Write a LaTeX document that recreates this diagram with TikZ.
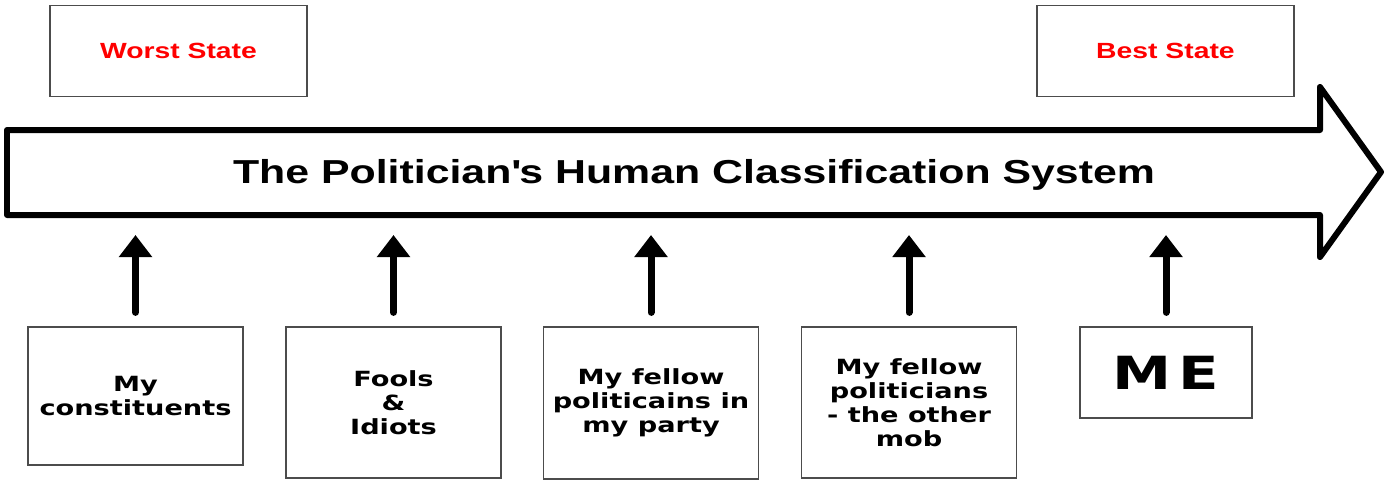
\documentclass[tikz,border=0pt]{standalone}
\usepackage{fontspec}
\usetikzlibrary{arrows.meta,positioning}
\newfontfamily\titlefont[FakeStretch=1.29]{Liberation Sans}
\newfontfamily\boxfont[FakeStretch=1.3]{DejaVu Sans}

\begin{document}
\begin{tikzpicture}[x=0.02cm,y=-0.02cm,
    statebox/.style={draw=black!70,line width=0.7pt,minimum width=5.14cm,minimum height=1.82cm,inner sep=0pt,text=red,font=\titlefont\bfseries\fontsize{12.5}{14}\selectfont},
    groupbox/.style={draw=black!70,line width=0.7pt,minimum width=4.3cm,inner sep=0pt,align=center,font=\boxfont\bfseries\fontsize{11.9}{13.7}\selectfont},
    uparrow/.style={line width=0.14cm,line cap=round,shorten <=0.28cm,-{Triangle[length=0.44cm,width=0.64cm]}}]
    \useasboundingbox (0,0) rectangle (1389,487);

    % end states
    \node[statebox] (worst) at (178.5,51) {Worst State};
    \node[statebox] (best) at (1165.5,51) {Best State};

    % the big arrow
    \draw[line width=0.12cm,line join=round] (7,130) -- (1320,130) -- (1320,87) -- (1381,172) -- (1320,257) -- (1320,215) -- (7,215) -- cycle;
    \node[font=\titlefont\bfseries\fontsize{18.9}{22}\selectfont] (title) at (694,175) {The Politician\textquotesingle s Human Classification System};

    % the classes
    \node[groupbox,minimum height=2.76cm] (constit) at (135.5,396) {My\\constituents};
    \node[groupbox,minimum height=3.02cm] (fools) at (393.5,402.5) {Fools\\\&\\Idiots};
    \node[groupbox,minimum height=3.04cm] (party) at (651,403) {My fellow\\politicains in\\my party};
    \node[groupbox,minimum height=3.02cm] (othermob) at (909,402.5) {My fellow\\politicians\\- the other\\mob};
    \node[groupbox,minimum width=3.44cm,minimum height=1.82cm,font=\boxfont\bfseries\fontsize{26}{30}\selectfont] (me) at (1166,372.5) {M\kern0.14cm E};

    \coordinate (tips) at (0,235);
    \foreach \b in {constit,fools,party,othermob,me}
        \draw[uparrow] (\b.north) -- (\b.north |- tips);
\end{tikzpicture}
\end{document}
